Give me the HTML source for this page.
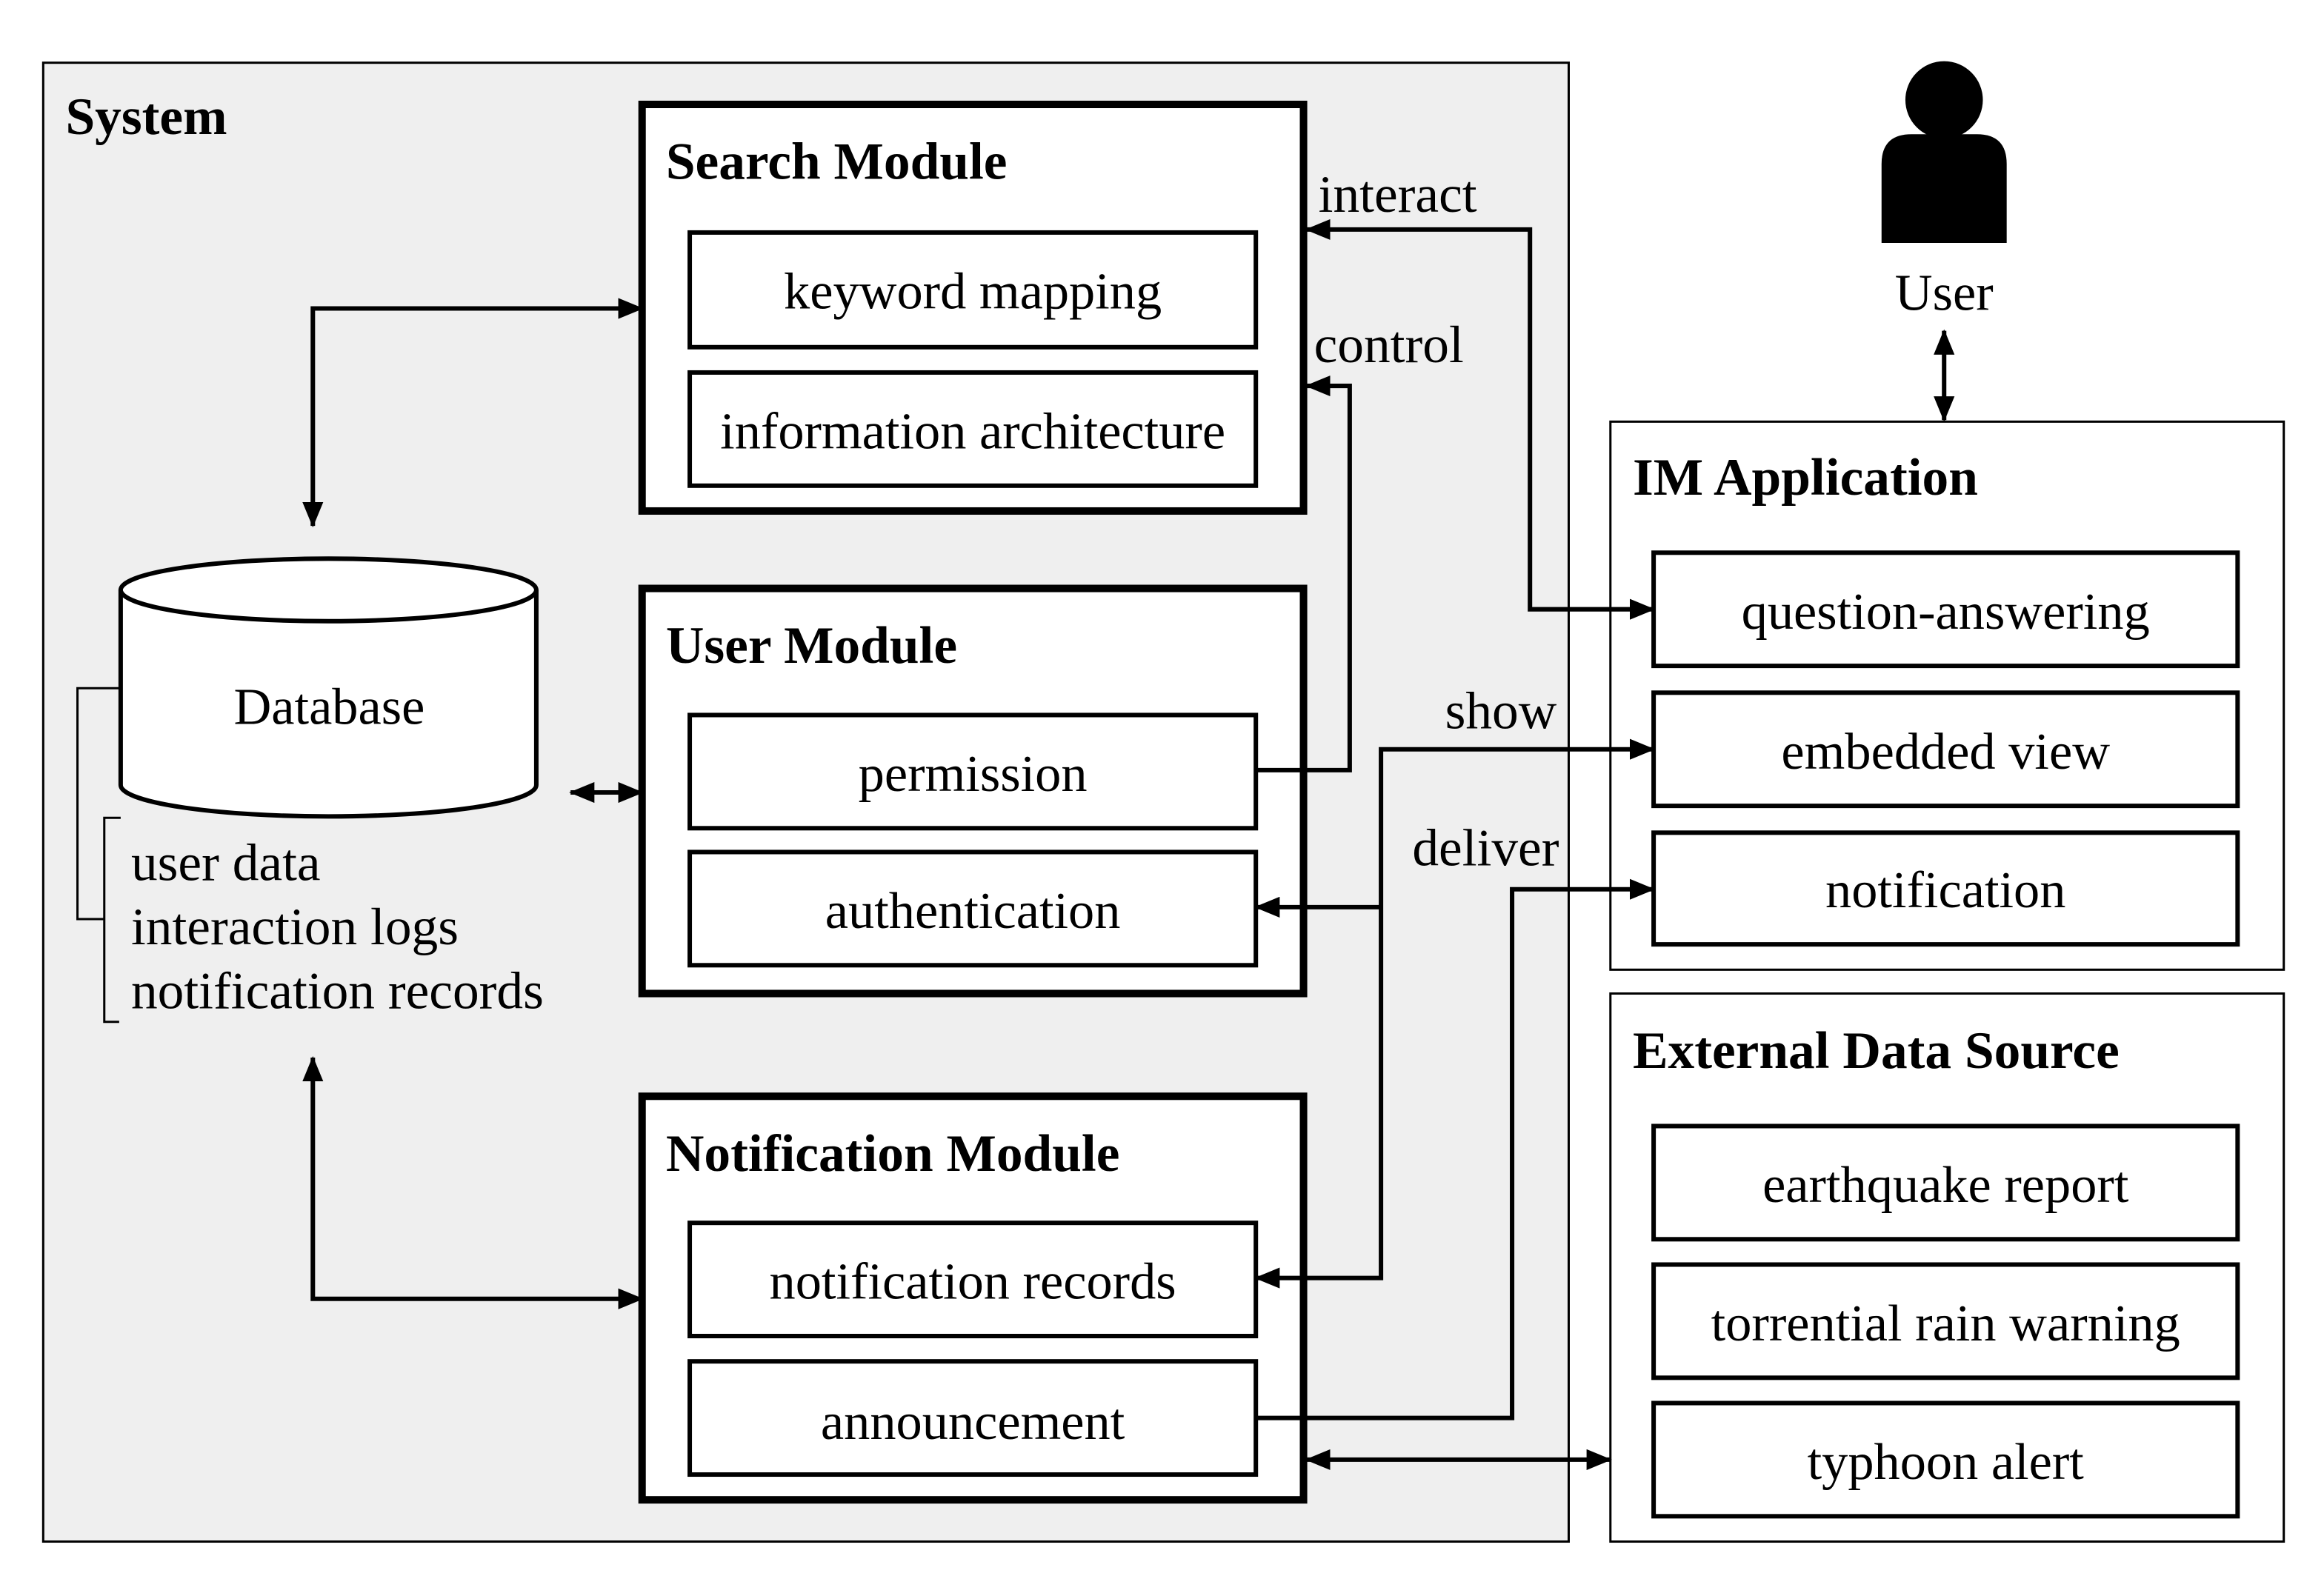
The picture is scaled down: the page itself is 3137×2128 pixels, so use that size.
<!DOCTYPE html>
<html><head><meta charset="utf-8"><style>
html,body{margin:0;padding:0;background:#fff;}
svg{display:block;}
text{font-family:"Liberation Serif",serif;fill:#000;}
.t{font-size:35px;text-anchor:middle;}
.b{font-size:35.5px;font-weight:bold;}
.l{font-size:35.5px;}
</style></head><body>
<svg width="3137" height="2128" viewBox="0 0 1560 1058" xmlns="http://www.w3.org/2000/svg">
<defs>
<marker id="a" markerWidth="17" markerHeight="14" refX="16" refY="7" orient="auto-start-reverse" markerUnits="userSpaceOnUse">
<path d="M0,0 L17,7 L0,14 Z" fill="#000"/></marker>
</defs>
<rect x="0" y="0" width="1560" height="1058" fill="#fff"/>
<!-- System -->
<rect x="29" y="42" width="1024" height="993" fill="#efefef" stroke="#000" stroke-width="1.5"/>
<text class="b" x="44" y="90">System</text>

<!-- IM Application -->
<rect x="1081" y="283" width="452" height="368" fill="#fff" stroke="#000" stroke-width="1.5"/>
<text class="b" x="1096" y="332">IM Application</text>
<rect x="1110" y="371" width="392" height="76" fill="#fff" stroke="#000" stroke-width="3"/>
<text class="t" x="1306" y="422">question-answering</text>
<rect x="1110" y="465" width="392" height="76" fill="#fff" stroke="#000" stroke-width="3"/>
<text class="t" x="1306" y="516">embedded view</text>
<rect x="1110" y="559" width="392" height="75" fill="#fff" stroke="#000" stroke-width="3"/>
<text class="t" x="1306" y="609">notification</text>

<!-- External -->
<rect x="1081" y="667" width="452" height="368" fill="#fff" stroke="#000" stroke-width="1.5"/>
<text class="b" x="1096" y="717">External Data Source</text>
<rect x="1110" y="756" width="392" height="76" fill="#fff" stroke="#000" stroke-width="3"/>
<text class="t" x="1306" y="807">earthquake report</text>
<rect x="1110" y="849" width="392" height="76" fill="#fff" stroke="#000" stroke-width="3"/>
<text class="t" x="1306" y="900">torrential rain warning</text>
<rect x="1110" y="942" width="392" height="76" fill="#fff" stroke="#000" stroke-width="3"/>
<text class="t" x="1306" y="993">typhoon alert</text>

<!-- Search Module -->
<rect x="431" y="70" width="444" height="273" fill="#fff" stroke="#000" stroke-width="5"/>
<text class="b" x="447" y="120">Search Module</text>
<rect x="463" y="156" width="380" height="77" fill="#fff" stroke="#000" stroke-width="3"/>
<text class="t" x="653" y="207">keyword mapping</text>
<rect x="463" y="250" width="380" height="76" fill="#fff" stroke="#000" stroke-width="3"/>
<text class="t" x="653" y="301">information architecture</text>

<!-- User Module -->
<rect x="431" y="395" width="444" height="272" fill="#fff" stroke="#000" stroke-width="5"/>
<text class="b" x="447" y="445">User Module</text>
<rect x="463" y="480" width="380" height="76" fill="#fff" stroke="#000" stroke-width="3"/>
<text class="t" x="653" y="531">permission</text>
<rect x="463" y="572" width="380" height="76" fill="#fff" stroke="#000" stroke-width="3"/>
<text class="t" x="653" y="623">authentication</text>

<!-- Notification Module -->
<rect x="431" y="736" width="444" height="271" fill="#fff" stroke="#000" stroke-width="5"/>
<text class="b" x="447" y="786">Notification Module</text>
<rect x="463" y="821" width="380" height="76" fill="#fff" stroke="#000" stroke-width="3"/>
<text class="t" x="653" y="872">notification records</text>
<rect x="463" y="914" width="380" height="76" fill="#fff" stroke="#000" stroke-width="3"/>
<text class="t" x="653" y="966">announcement</text>

<!-- Database -->
<path d="M81,396 L81,527 A139,21 0 0 0 360,527 L360,396" fill="#fff" stroke="#000" stroke-width="3"/>
<ellipse cx="220.5" cy="396" rx="139.5" ry="21" fill="#fff" stroke="#000" stroke-width="3"/>
<text class="t" x="221" y="486">Database</text>
<path d="M81,462 L52,462 L52,617 L70,617" fill="none" stroke="#000" stroke-width="1.5"/>
<path d="M81,549 L70,549 L70,686 L80,686" fill="none" stroke="#000" stroke-width="1.5"/>
<text class="l" x="88" y="591">user data</text>
<text class="l" x="88" y="634">interaction logs</text>
<text class="l" x="88" y="677">notification records</text>

<g fill="none" stroke="#000" stroke-width="3">
<path d="M210,353 L210,207 L431,207" marker-start="url(#a)" marker-end="url(#a)"/>
<path d="M383,532 L431,532" marker-start="url(#a)" marker-end="url(#a)"/>
<path d="M210,710 L210,872 L431,872" marker-start="url(#a)" marker-end="url(#a)"/>
<path d="M877,154 L1027,154 L1027,409 L1110,409" marker-start="url(#a)" marker-end="url(#a)"/>
<path d="M843,517 L906,517 L906,259 L877,259" marker-end="url(#a)"/>
<path d="M843,858 L927,858 L927,503 L1110,503" marker-start="url(#a)" marker-end="url(#a)"/>
<path d="M927,609 L843,609" marker-end="url(#a)"/>
<path d="M843,952 L1015,952 L1015,597 L1110,597" marker-end="url(#a)"/>
<path d="M877,980 L1081,980" marker-start="url(#a)" marker-end="url(#a)"/>
<path d="M1305,222 L1305,282" marker-start="url(#a)" marker-end="url(#a)"/>
</g>
<text class="l" x="885" y="142">interact</text>
<text class="l" x="882" y="243">control</text>
<text class="l" x="970" y="489">show</text>
<text class="l" x="948" y="581">deliver</text>

<!-- User -->
<circle cx="1305" cy="67" r="26" fill="#000"/>
<path d="M1263,163 L1263,110 Q1263,90 1283,90 L1327,90 Q1347,90 1347,110 L1347,163 Z" fill="#000"/>
<text class="t" x="1305" y="208">User</text>
</svg>
</body></html>
